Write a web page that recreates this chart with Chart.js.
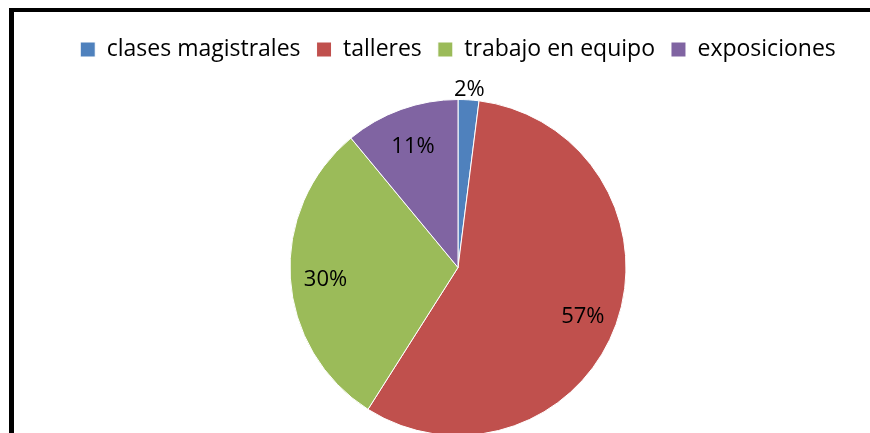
<!DOCTYPE html>
<html>
<head>
<meta charset="utf-8">
<script src="https://cdn.jsdelivr.net/npm/chart.js@4.4.1/dist/chart.umd.min.js"></script>
<style>
  html, body { margin: 0; padding: 0; background: #fff; overflow: hidden; width: 870px; height: 433px; }
  #frame { position: absolute; left: 9px; top: 8px; width: 900px; height: 500px; border-top: 4px solid #000; border-left: 5px solid #000; }
  #wrap { position: absolute; left: 0; top: 0; width: 870px; height: 436px; }
</style>
</head>
<body>
<div id="frame"></div>
<div id="wrap"><canvas id="pieChart"></canvas></div>
<script>
const categories = ['clases magistrales', 'talleres', 'trabajo en equipo', 'exposiciones'];
const percentages = [2, 57, 30, 11];
const sliceColors = ['#4F81BD', '#C0504D', '#9BBB59', '#8064A2'];

const labelFont = '22px "Open Sans", sans-serif';

// draws the % labels like Excel does: inside the slice, small slices outside
const pctLabels = {
    id: 'pctLabels',
    afterDatasetsDraw(chart) {
        const ctx = chart.ctx;
        const meta = chart.getDatasetMeta(0);
        ctx.save();
        ctx.font = labelFont;
        ctx.fillStyle = '#000';
        ctx.textAlign = 'center';
        ctx.textBaseline = 'middle';
        meta.data.forEach((arc, i) => {
            const p = arc.getProps(['x', 'y', 'startAngle', 'endAngle', 'outerRadius'], true);
            const mid = (p.startAngle + p.endAngle) / 2;
            const value = percentages[i];
            const dist = value < 5 ? p.outerRadius + 14 : p.outerRadius * 0.79;
            ctx.fillText(value + '%', p.x + Math.cos(mid) * dist, p.y + Math.sin(mid) * dist + 4);
        });
        ctx.restore();
    }
};

// extra room under the legend, before the pie
const legendGap = {
    id: 'legendGap',
    beforeInit(chart) {
        const fit = chart.legend.fit;
        chart.legend.fit = function () {
            fit.call(this);
            this.height += 28;
        };
    }
};

const ctx = document.getElementById('pieChart').getContext('2d');
new Chart(ctx, {
    type: 'pie',
    data: {
        labels: categories,
        datasets: [{
            data: percentages,
            backgroundColor: sliceColors,
            borderColor: '#ffffff',
            borderWidth: 1
        }]
    },
    options: {
        responsive: true,
        maintainAspectRatio: false,
        animation: false,
        layout: {
            padding: { left: 46, top: 22, right: 0, bottom: 0 }
        },
        plugins: {
            tooltip: { enabled: false },
            legend: {
                position: 'top',
                labels: {
                    boxWidth: 15,
                    boxHeight: 15,
                    padding: 16,
                    color: '#000',
                    font: { family: '"Open Sans", sans-serif', size: 23 }
                }
            }
        }
    },
    plugins: [legendGap, pctLabels]
});
</script>
</body>
</html>
